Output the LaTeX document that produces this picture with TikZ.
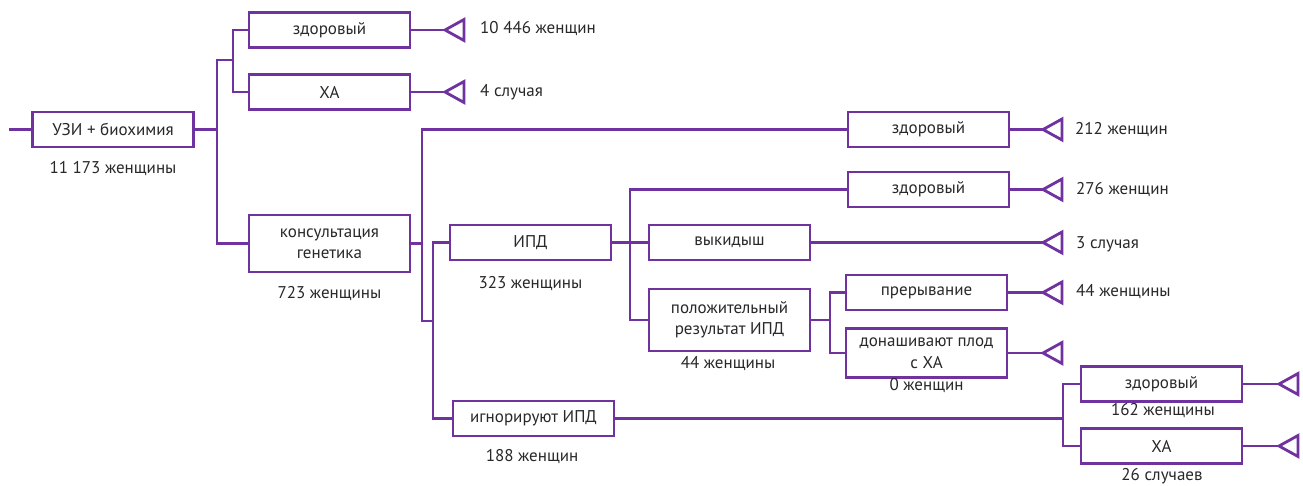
\documentclass[tikz,border=0pt]{standalone}
\usepackage{fontspec}
\setmainfont{PT Sans}
\definecolor{vio}{RGB}{112,50,158}
\definecolor{txt}{RGB}{40,40,40}
\newcommand{\fs}{\fontsize{17}{21.5}\selectfont}
\begin{document}
\begin{tikzpicture}[x=1pt,y=-1pt,
  box/.style={draw=vio, line width=2.8pt, fill=white, minimum width=161pt, minimum height=35pt, inner sep=0pt, align=center, font=\fs, text=txt},
  conn/.style={draw=vio, line width=2.8pt},
  tri/.style={draw=vio, line width=2.8pt, fill=white, line join=miter},
  lab/.style={font=\fs, text=txt, inner sep=0pt},
  rlab/.style={lab, anchor=west}]
\useasboundingbox (0,0) rectangle (1303,485);
% boxes
\node[box] (uzi) at (113,129.5) {УЗИ + биохимия};
\node[lab] (luzi) at (113,169) {11 173 женщины};
\node[box] (zd1) at (329.5,30) {здоровый};
\node[box] (xa1) at (329.5,92) {ХА};
\node[box, minimum height=57pt] (kons) at (329.5,243.5) {консультация\\генетика};
\node[lab] (lkons) at (329.5,294) {723 женщины};
\node[box] (ipd) at (530.5,242.5) {ИПД};
\node[lab] (lipd) at (530.5,284) {323 женщины};
\node[box] (ign) at (533.5,418.5) {игнорируют ИПД};
\node[lab] (lign) at (532,457) {188 женщин};
\node[box] (zd2) at (928.5,129.5) {здоровый};
\node[box] (zd3) at (928.5,189.5) {здоровый};
\node[box] (vyk) at (729.5,242.5) {выкидыш};
\node[box, minimum height=62pt] (pos) at (729.5,320) {положительный\\результат ИПД};
\node[lab] (lpos) at (728,364) {44 женщины};
\node[box] (prer) at (926.5,292.5) {прерывание};
\node[box, minimum height=49pt] (don) at (926.5,353) {донашивают плод\\с ХА};
\node[lab] (ldon) at (926.5,386) {0 женщин};
\node[box] (zd4) at (1161.5,384) {здоровый};
\node[lab] (lzd4) at (1163,411) {162 женщины};
\node[box] (xa2) at (1161.5,446) {ХА};
\node[lab] (lxa2) at (1162,476) {26 случаев};
% junctions
\coordinate (s0) at (9,129.5);
\coordinate (v1) at (217,129.5);
\coordinate (c1) at (233,60);
\coordinate (v2) at (422,243.5);
\coordinate (c2) at (433,321);
\coordinate (v3) at (630,242.5);
\coordinate (v4) at (830,320);
\coordinate (v5) at (1063,418.5);
\draw[conn] (s0) -- (uzi.west);
\draw[conn] (uzi.east) -- (v1);
\draw[conn] (v1) |- (c1);
\draw[conn] (c1) |- (zd1.west);
\draw[conn] (c1) |- (xa1.west);
\draw[conn] (v1) |- (kons.west);
\draw[conn] (kons.east) -- (v2);
\draw[conn] (v2) |- (zd2.west);
\draw[conn] (v2) |- (c2);
\draw[conn] (c2) |- (ipd.west);
\draw[conn] (c2) |- (ign.west);
\draw[conn] (ipd.east) -- (v3);
\draw[conn] (v3) |- (zd3.west);
\draw[conn] (v3) |- (vyk.west);
\draw[conn] (v3) |- (pos.west);
\draw[conn] (pos.east) -- (v4);
\draw[conn] (v4) |- (prer.west);
\draw[conn] (v4) |- (don.west);
\draw[conn] (ign.east) -- (v5);
\draw[conn] (v5) |- (zd4.west);
\draw[conn] (v5) |- (xa2.west);
% terminal triangles
\coordinate (t1) at (445,30);
\coordinate (t2) at (445,92);
\coordinate (t3) at (1043,129.5);
\coordinate (t4) at (1043,189.5);
\coordinate (t5) at (1043,242.5);
\coordinate (t6) at (1043,292.5);
\coordinate (t7) at (1043,353);
\coordinate (t8) at (1279,384);
\coordinate (t9) at (1279,446);
\draw[conn] (zd1.east) -- (t1);
\draw[conn] (xa1.east) -- (t2);
\draw[conn] (zd2.east) -- (t3);
\draw[conn] (zd3.east) -- (t4);
\draw[conn] (vyk.east) -- (t5);
\draw[conn] (prer.east) -- (t6);
\draw[conn] (don.east) -- (t7);
\draw[conn] (zd4.east) -- (t8);
\draw[conn] (xa2.east) -- (t9);
\foreach \t in {t1,t2,t3,t4,t5,t6,t7,t8,t9}
  \draw[tri] (\t) -- ++(19,-10.5) -- ++(0,21) -- cycle;
% outcome labels
\node[rlab] (r1) at (480,29) {10 446 женщин};
\node[rlab] (r2) at (480,92) {4 случая};
\node[rlab] (r3) at (1075,130) {212 женщин};
\node[rlab] (r4) at (1076,190) {276 женщин};
\node[rlab] (r5) at (1076,244) {3 случая};
\node[rlab] (r6) at (1076,292) {44 женщины};
\end{tikzpicture}
\end{document}
